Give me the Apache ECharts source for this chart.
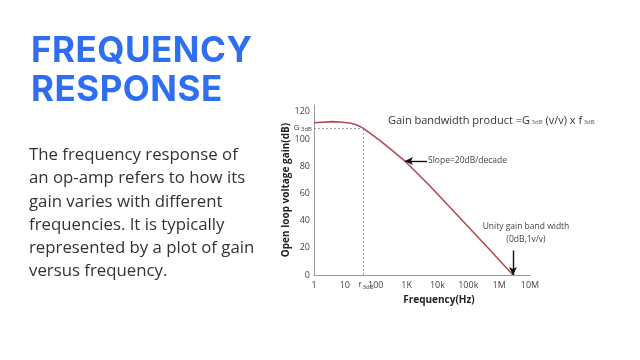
<!DOCTYPE html>
<html><head><meta charset="utf-8">
<script src="https://cdn.jsdelivr.net/npm/echarts@6/dist/echarts.min.js"></script>
<style>
html,body{margin:0;padding:0;background:#fff;}
#wrap{position:relative;width:640px;height:360px;overflow:hidden;background:#fff;}
#chart{position:absolute;left:0;top:0;width:640px;height:360px;}
#title{position:absolute;left:31px;top:30px;font-family:Inter,sans-serif;font-weight:700;font-size:35px;line-height:39px;color:#2e6ef2;letter-spacing:0.5px;}
#para{position:absolute;left:29px;top:142px;font-family:'Open Sans',sans-serif;font-size:16.8px;line-height:23.3px;color:#333;}
</style></head>
<body><div id="wrap"><div id="chart"></div>
<div id="title">FREQUENCY<br>RESPONSE</div>
<div id="para">The frequency response of<br>an op-amp refers to how its<br>gain varies with different<br>frequencies. It is typically<br>represented by a plot of gain<br>versus frequency.</div>
</div>
<script>
const freqHz = [1, 4, 7, 14.6, 24.7, 38.7, 81.6, 138, 290, 889, 5740, 53900, 505000, 2810000];
const gainDb = [112, 112.8, 112.5, 111.8, 110.3, 108, 102.6, 98.8, 93.0, 83.8, 65.4, 41.9, 18.4, 0];
const yTicks = [0, 20, 40, 60, 80, 100, 120];
const xTickLabels = {1:'1', 10:'10', 100:'100', 1000:'1K', 10000:'10k', 100000:'100k', 1000000:'1M', 10000000:'10M'};
const f3dB = 38.7, g3dB = 108;
const slopePoint = [889, 83.8], slopeTextAt = [4600, 83.8];
const unityFreq = 2810000, unityArrowTop = 18;

const chart = echarts.init(document.getElementById('chart'), null, {renderer:'canvas'});
chart.setOption({
  animation:false,
  backgroundColor:'transparent',
  title:{
    text:'Gain bandwidth product =G{s| 3dB} (v/v) x f{s| 3dB}',
    left:383, top:110,
    textStyle:{fontFamily:'Open Sans, sans-serif', fontSize:11, fontWeight:'normal', color:'#333',
      rich:{s:{fontSize:6, color:'#555', fontFamily:'Open Sans, sans-serif', padding:[4,0,0,0]}}}
  },
  grid:{left:314, right:110, top:105, bottom:85, containLabel:false},
  xAxis:{
    type:'log', logBase:10, min:1, max:10000000,
    name:'Frequency(Hz)', nameLocation:'middle', nameGap:20,
    nameTextStyle:{fontFamily:'Open Sans, sans-serif', fontWeight:'bold', fontSize:10, color:'#222', padding:[0,0,0,34]},
    axisLine:{lineStyle:{color:'#999', width:1}},
    axisTick:{show:false}, splitLine:{show:false}, minorTick:{show:false},
    axisLabel:{fontFamily:'Open Sans, sans-serif', fontSize:9, color:'#444', margin:6,
      formatter:v=>xTickLabels[Math.round(v)]||''}
  },
  yAxis:{
    type:'value', min:0, max:125, interval:20,
    name:'Open loop voltage gain(dB)', nameLocation:'middle', nameGap:16, nameRotate:90,
    nameTextStyle:{fontFamily:'Open Sans, sans-serif', fontWeight:'bold', fontSize:10, color:'#222'},
    axisLine:{show:true, lineStyle:{color:'#999', width:1}},
    axisTick:{show:false}, splitLine:{show:false},
    axisLabel:{fontFamily:'Open Sans, sans-serif', fontSize:9, color:'#444', margin:4, showMaxLabel:false,
      formatter:v=>yTicks.includes(v)?String(v):''}
  },
  series:[{
    type:'line', smooth:false, symbol:'none',
    data:freqHz.map((f,i)=>[f,gainDb[i]]),
    lineStyle:{color:'#b24b57', width:1.6, join:'round'},
    markLine:{
      silent:true, symbol:['none','none'], animation:false,
      data:[
        [{coord:[1,g3dB], lineStyle:{type:[2,2], color:'#888', width:0.8},
          label:{show:true, position:'start', distance:2, formatter:'G{s| 3dB}', fontFamily:'Open Sans, sans-serif', fontSize:8, color:'#444',
            rich:{s:{fontSize:6, color:'#444', padding:[3,0,0,0]}}}},
         {coord:[f3dB,g3dB]}],
        [{coord:[f3dB,0], lineStyle:{type:[2,2], color:'#888', width:0.8},
          label:{show:true, position:'start', distance:5, offset:[3,0], formatter:'f{s| 3dB}', fontFamily:'Open Sans, sans-serif', fontSize:8, color:'#444',
            rich:{s:{fontSize:6, color:'#444', padding:[4,0,0,0]}}}},
         {coord:[f3dB,g3dB]}],
        [{coord:slopePoint, symbol:'arrow', symbolSize:[6,8], lineStyle:{type:'solid', color:'#111', width:1.4},
          label:{show:true, position:'end', distance:1, formatter:'Slope=20dB/decade', fontFamily:'Open Sans, sans-serif', fontSize:8.5, color:'#444'}},
         {coord:slopeTextAt, symbol:'none'}],
        [{coord:[unityFreq,unityArrowTop], symbol:'none', lineStyle:{type:'solid', color:'#111', width:1.4},
          label:{show:true, position:'start', distance:4, offset:[13,0], formatter:'Unity gain band width\n(0dB,1v/v)', align:'center', lineHeight:13, fontFamily:'Open Sans, sans-serif', fontSize:8.5, color:'#444'}},
         {coord:[unityFreq,0], symbol:'arrow', symbolSize:[6,8]}]
      ]
    }
  }]
});
</script></body></html>
